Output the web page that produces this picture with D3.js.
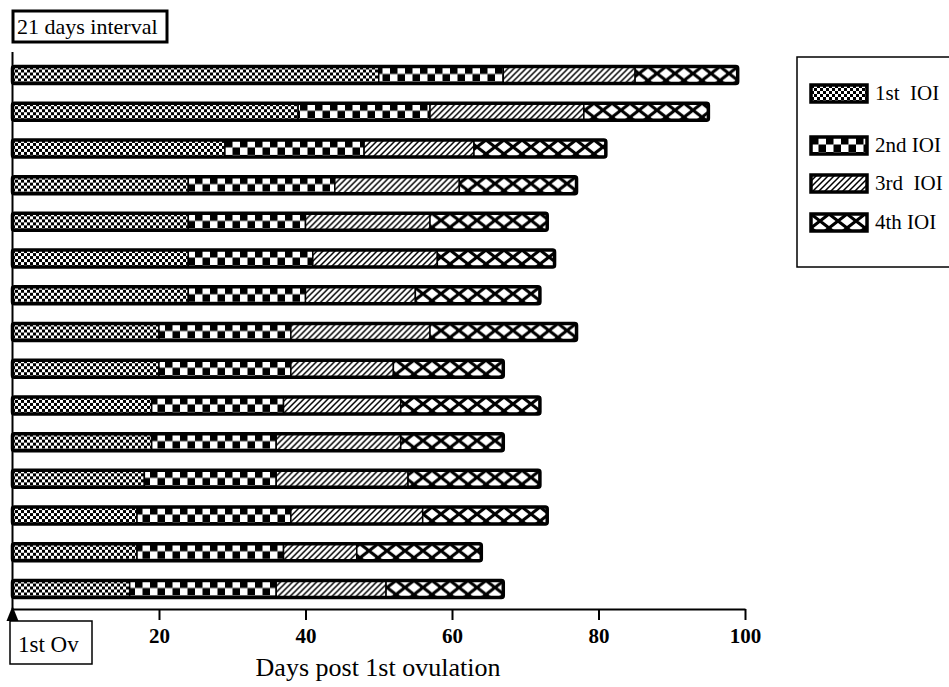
<!DOCTYPE html>
<html>
<head>
  <script src="https://d3js.org/d3.v7.min.js"></script>
  <style>
  body { margin: 0; background: #fff; }
  text { font-family: "Liberation Serif", "Times New Roman", serif; }
  </style>
</head>
<body>
  <script>
  var w = 949;
  var h = 687;

  //Interval lengths (days) for each animal, top bar first
  var ioi1 = [50, 39, 29, 24, 24, 24, 24, 20, 20, 19, 19, 18, 17, 17, 16];
  var ioi2 = [17, 18, 19, 20, 16, 17, 16, 18, 18, 18, 17, 18, 21, 20, 20];
  var ioi3 = [18, 21, 15, 17, 17, 17, 15, 19, 14, 16, 17, 18, 18, 10, 15];
  var ioi4 = [14, 17, 18, 16, 16, 16, 17, 20, 15, 19, 14, 18, 17, 17, 16];
  var seriesNames = ["1st  IOI", "2nd IOI", "3rd  IOI", "4th IOI"];
  var xTicks = [20, 40, 60, 80, 100];

  var series = [ioi1, ioi2, ioi3, ioi4];
  var rows = d3.range(ioi1.length);

  var x = d3.scaleLinear().domain([0, 100]).range([12.5, 745]);
  var y = d3.scalePoint().domain(rows).range([75, 589]);
  var barH = 17;

  var svg = d3.select("body")
    .append("svg")
    .attr("width", w)
    .attr("height", h);

  //Fill patterns, one per interval
  var defs = svg.append("defs");

  var p1 = defs.append("pattern").attr("id", "pat0")
    .attr("patternUnits", "userSpaceOnUse").attr("width", 6).attr("height", 6);
  p1.append("rect").attr("width", 6).attr("height", 6).attr("fill", "#fff");
  p1.append("rect").attr("width", 3).attr("height", 3).attr("fill", "#000");
  p1.append("rect").attr("x", 3).attr("y", 3).attr("width", 3).attr("height", 3).attr("fill", "#000");

  var p2 = defs.append("pattern").attr("id", "pat1")
    .attr("patternUnits", "userSpaceOnUse").attr("width", 15).attr("height", 15);
  p2.append("rect").attr("width", 15).attr("height", 15).attr("fill", "#fff");
  p2.append("rect").attr("width", 7.5).attr("height", 7.5).attr("fill", "#000");
  p2.append("rect").attr("x", 7.5).attr("y", 7.5).attr("width", 7.5).attr("height", 7.5).attr("fill", "#000");

  var p3 = defs.append("pattern").attr("id", "pat2")
    .attr("patternUnits", "userSpaceOnUse").attr("width", 6).attr("height", 6);
  p3.append("rect").attr("width", 6).attr("height", 6).attr("fill", "#fff");
  p3.append("path").attr("d", "M-1,7 L7,-1 M-1,1 L1,-1 M5,7 L7,5")
    .attr("stroke", "#000").attr("stroke-width", 1.5);

  var p4 = defs.append("pattern").attr("id", "pat3")
    .attr("patternUnits", "userSpaceOnUse").attr("width", 18).attr("height", 14);
  p4.append("rect").attr("width", 18).attr("height", 14).attr("fill", "#fff");
  p4.append("path").attr("d", "M0,0 L18,14 M18,0 L0,14")
    .attr("stroke", "#000").attr("stroke-width", 3);

  //Stack the intervals into start/end pairs
  var bars = rows.map(function(i){
    var start = 0;
    return series.map(function(s, k){
      var seg = {k: k, x0: start, x1: start + s[i]};
      start += s[i];
      return seg;
    });
  });

  var g = svg.append("g")
    .selectAll("g")
    .data(bars)
    .enter()
    .append("g")
      .attr("transform", function(d, i){ return "translate(0," + (y(i) - barH / 2) + ")"; });

  g.selectAll("rect.seg")
    .data(function(d){ return d; })
    .enter()
    .append("rect")
      .attr("class", "seg")
      .attr("x", function(d){ return x(d.x0); })
      .attr("width", function(d){ return x(d.x1) - x(d.x0); })
      .attr("y", 0)
      .attr("height", barH)
      .attr("fill", function(d){ return "url(#pat" + d.k + ")"; })
      .attr("stroke", "#000")
      .attr("stroke-width", 1.5);

  //Thick outline round each whole bar
  g.append("rect")
    .attr("x", x(0))
    .attr("width", function(d){ return x(d[3].x1) - x(0); })
    .attr("y", 0)
    .attr("height", barH)
    .attr("rx", 2)
    .attr("fill", "none")
    .attr("stroke", "#000")
    .attr("stroke-width", 3.5);

  //Axes
  svg.append("line")
    .attr("x1", x(0)).attr("x2", x(0))
    .attr("y1", 52).attr("y2", 609)
    .attr("stroke", "#000").attr("stroke-width", 2);

  var xAxis = svg.append("g")
    .attr("transform", "translate(0,609)")
    .call(d3.axisBottom(x).tickValues(xTicks).tickSize(11).tickSizeOuter(0).tickPadding(8));
  xAxis.select(".domain").attr("stroke-width", 2);
  xAxis.selectAll(".tick line").attr("stroke-width", 2);
  xAxis.selectAll(".tick text")
    .attr("font-size", 21)
    .attr("font-weight", "bold");

  svg.append("text")
    .attr("x", 378)
    .attr("y", 676)
    .attr("text-anchor", "middle")
    .attr("font-size", 26)
    .text("Days post 1st ovulation");

  //Marker for first ovulation
  svg.append("path")
    .attr("d", "M" + x(0) + ",606 L" + (x(0) - 6) + ",621 L" + (x(0) + 6) + ",621 Z")
    .attr("fill", "#000");
  svg.append("rect")
    .attr("x", 10).attr("y", 621).attr("width", 82).attr("height", 43)
    .attr("fill", "none").attr("stroke", "#000").attr("stroke-width", 1.5);
  svg.append("text")
    .attr("x", 18).attr("y", 652)
    .attr("font-size", 23)
    .text("1st Ov");

  //Title box
  svg.append("rect")
    .attr("x", 13).attr("y", 11).attr("width", 154).attr("height", 31)
    .attr("fill", "none").attr("stroke", "#000").attr("stroke-width", 3);
  svg.append("text")
    .attr("x", 17).attr("y", 34)
    .attr("font-size", 22)
    .text("21 days interval");

  //Legend
  svg.append("rect")
    .attr("x", 797).attr("y", 57).attr("width", 170).attr("height", 210)
    .attr("fill", "none").attr("stroke", "#000").attr("stroke-width", 1.5);

  var legendY = [93, 145, 183, 222];
  var lg = svg.append("g")
    .selectAll("g")
    .data(seriesNames)
    .enter()
    .append("g")
      .attr("transform", function(d, i){ return "translate(811," + (legendY[i] - 8) + ")"; });
  lg.append("rect")
    .attr("width", 56).attr("height", 17)
    .attr("fill", function(d, i){ return "url(#pat" + i + ")"; })
    .attr("stroke", "#000").attr("stroke-width", 3.5);
  lg.append("text")
    .attr("x", 64).attr("y", 15)
    .attr("font-size", 21)
    .style("white-space", "pre")
    .text(function(d){ return d; });
  </script>
</body>
</html>
